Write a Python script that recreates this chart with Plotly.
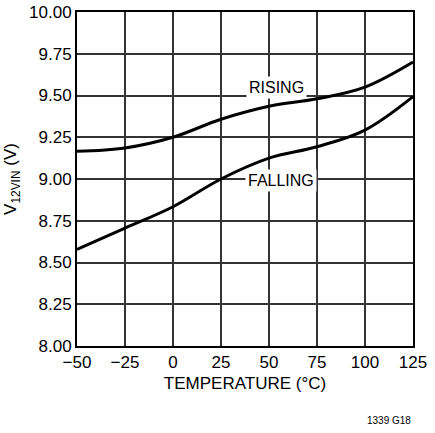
import plotly.graph_objects as go

temp = [-50, -25, 0, 25, 50, 75, 100, 125]
rising = [9.166, 9.186, 9.25, 9.358, 9.436, 9.48, 9.55, 9.70]
falling = [8.578, 8.706, 8.834, 9.00, 9.125, 9.193, 9.293, 9.493]
x_ticks = [-50, -25, 0, 25, 50, 75, 100, 125]
x_tick_text = ["\u221250", "\u221225", "0", "25", "50", "75", "100", "125"]
y_ticks = [8.00, 8.25, 8.50, 8.75, 9.00, 9.25, 9.50, 9.75, 10.00]
y_tick_text = ["8.00", "8.25", "8.50", "8.75", "9.00", "9.25", "9.50", "9.75", "10.00"]

FONT = "Liberation Sans, Arial, sans-serif"

fig = go.Figure()
for ys in (rising, falling):
    fig.add_trace(go.Scatter(x=temp, y=ys, mode="lines",
                             line=dict(color="black", width=3, shape="spline", smoothing=1.0),
                             showlegend=False, hoverinfo="skip"))

fig.add_annotation(x=54, y=9.55, text="RISING", showarrow=False,
                   bgcolor="white", font=dict(family=FONT, size=16, color="black"),
                   borderpad=2)
fig.add_annotation(x=56.5, y=8.99, text="FALLING", showarrow=False,
                   bgcolor="white", font=dict(family=FONT, size=16, color="black"),
                   borderpad=2)
fig.add_annotation(xref="paper", yref="paper", x=1.0, y=-0.222, xanchor="right", yanchor="middle",
                   text="1339 G18", showarrow=False,
                   font=dict(family=FONT, size=10, color="black"))

fig.update_xaxes(range=[-50, 125], tickvals=x_ticks, ticktext=x_tick_text,
                 showgrid=True, gridcolor="#333333", gridwidth=1.5,
                 showline=True, linecolor="black", linewidth=2, mirror=True,
                 ticks="", zeroline=False, automargin=False,
                 tickfont=dict(family=FONT, size=17, color="black"),
                 title=dict(text="TEMPERATURE (\u00b0C)", font=dict(family=FONT, size=17, color="black"),
                            standoff=6))
fig.update_yaxes(range=[8.0, 10.0], tickvals=y_ticks, ticktext=y_tick_text,
                 showgrid=True, gridcolor="#333333", gridwidth=1.5,
                 showline=True, linecolor="black", linewidth=2, mirror=True,
                 ticks="", zeroline=False, automargin=False,
                 tickfont=dict(family=FONT, size=17, color="black"),
                 title=dict(text="V<sub>12VIN</sub> (V)", font=dict(family=FONT, size=17, color="black"),
                            standoff=8))

fig.update_layout(width=435, height=433, margin=dict(l=77, r=22, t=12, b=87),
                  plot_bgcolor="white", paper_bgcolor="white")

fig.write_html("out.html", config={"displayModeBar": False},
               post_script="document.body.style.margin='0px';document.body.style.overflow='hidden';")
